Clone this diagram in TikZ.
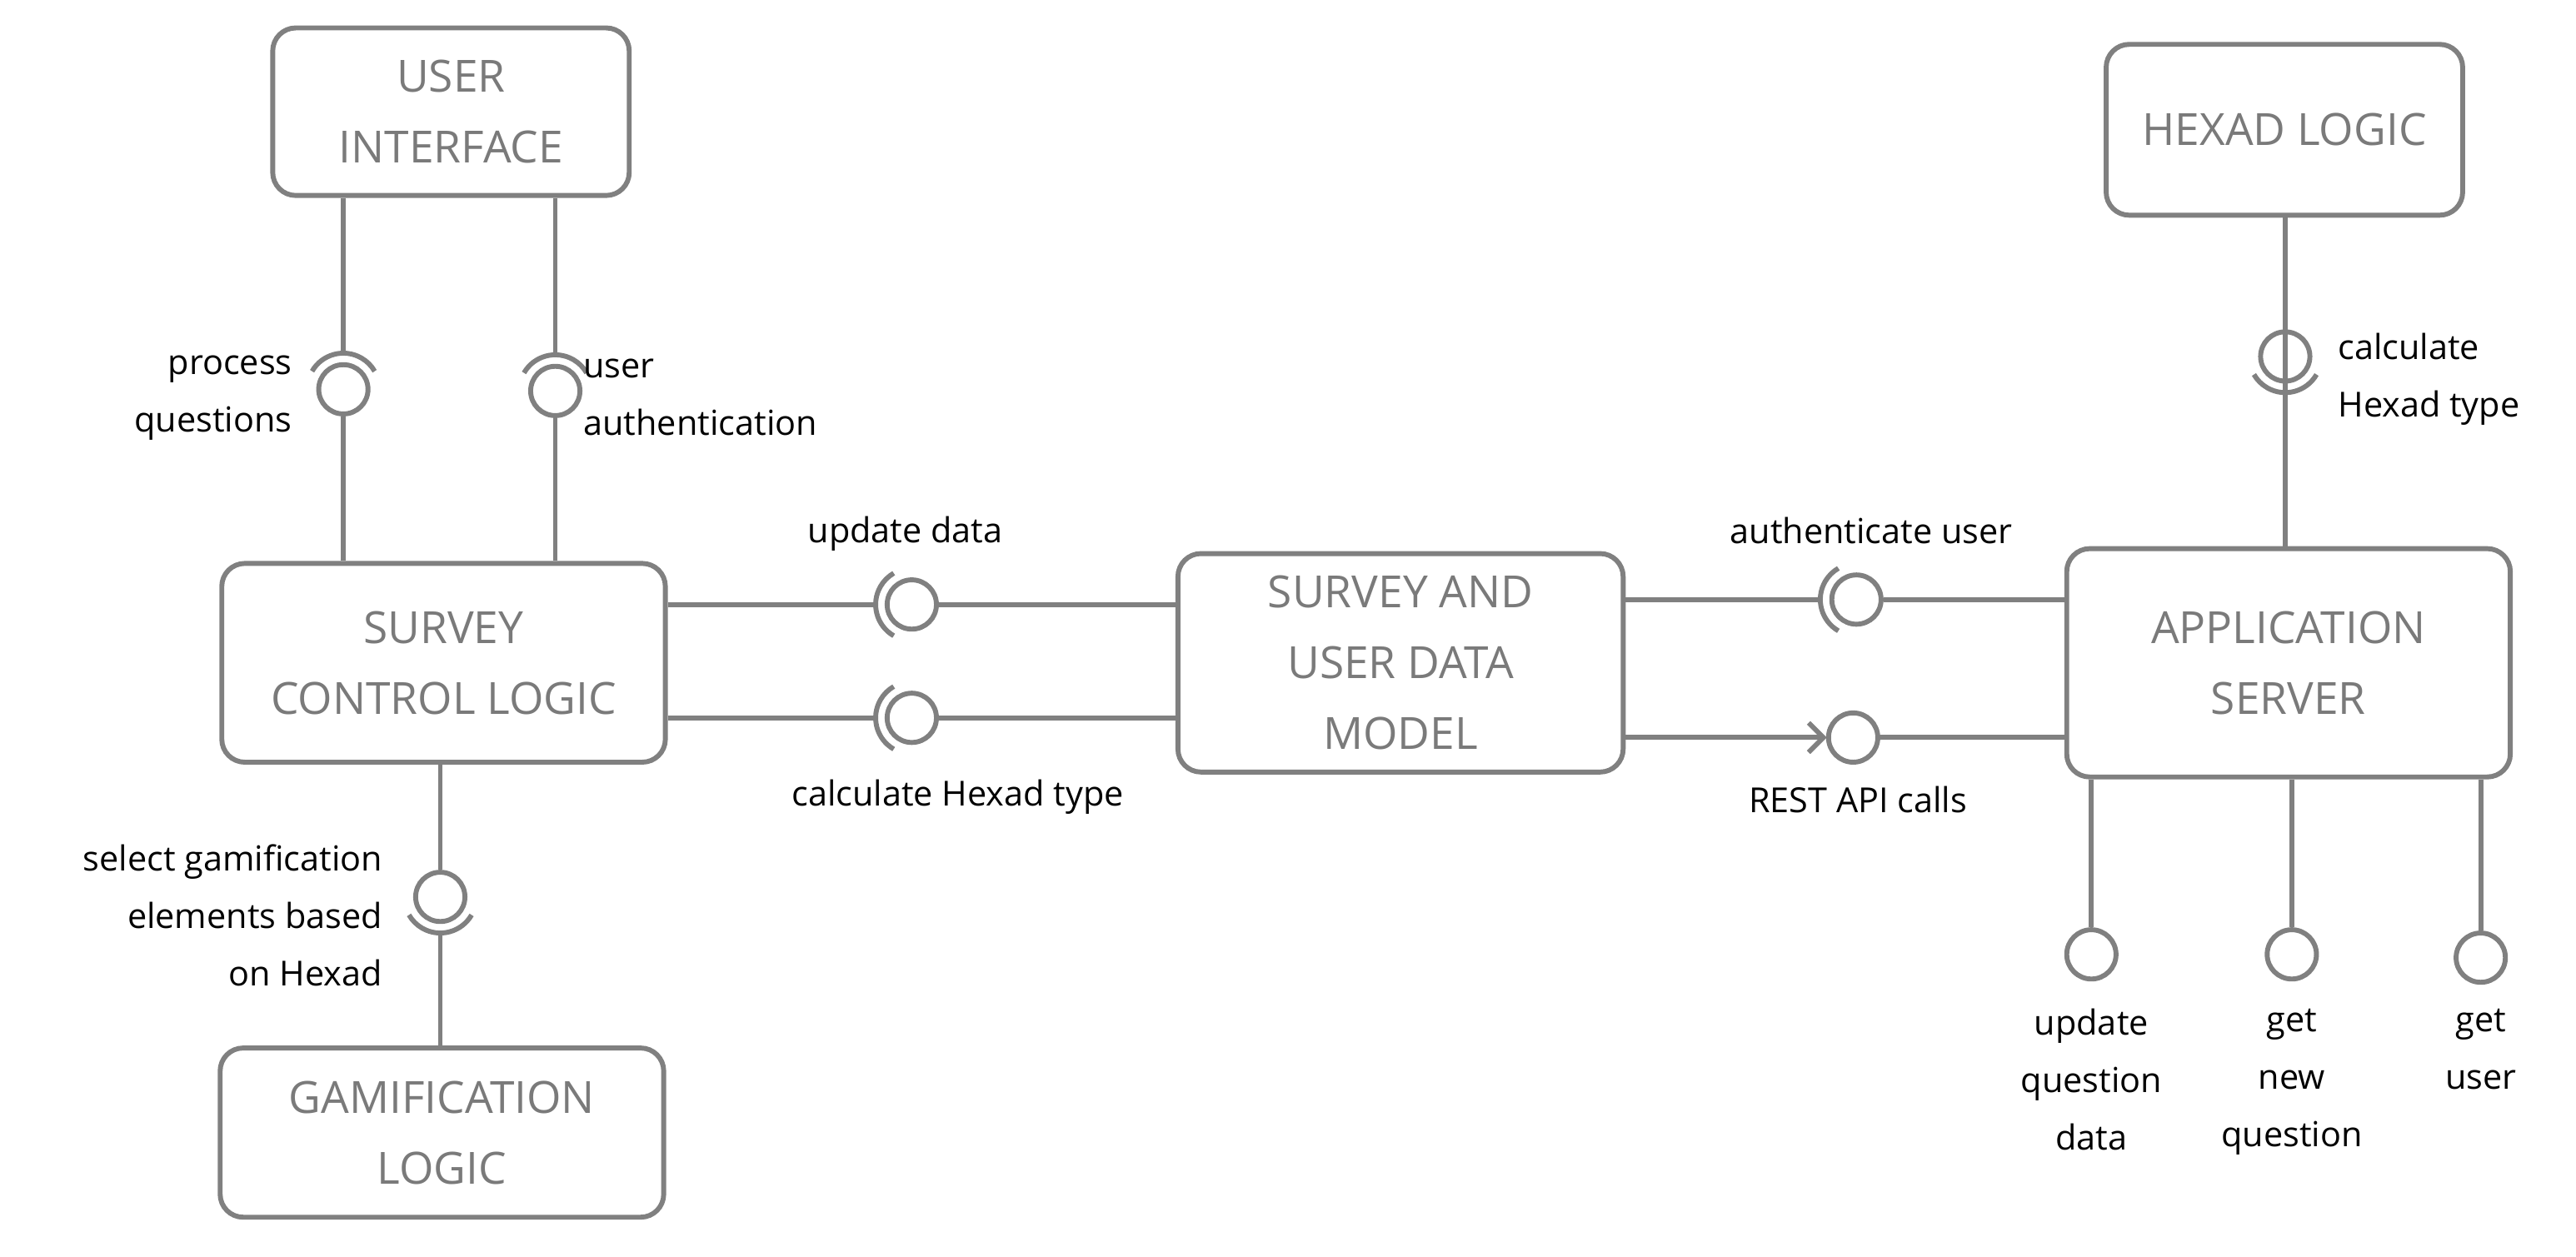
\documentclass[tikz,border=0pt]{standalone}
\usepackage{fontspec}
\setmainfont{Open Sans}
\usetikzlibrary{arrows.meta}
\definecolor{ln}{HTML}{808080}
\definecolor{tx}{HTML}{7A7A7A}
\begin{document}
\begin{tikzpicture}[x=1pt,y=-1pt,
  box/.style={draw=ln,line width=3pt,rounded corners=14pt,text=tx,align=center,
    font=\fontsize{27}{43}\selectfont},
  ball/.style={circle,draw=ln,line width=3pt,minimum size=30pt,inner sep=0pt},
  con/.style={draw=ln,line width=3pt},
  lab/.style={font=\fontsize{21}{35}\selectfont,inner sep=0pt}]
\useasboundingbox (0,0) rectangle (1568,765);
% boxes
\node[box,minimum width=217pt,minimum height=102pt] (ui) at (274.5,68) {USER\\INTERFACE};
\node[box,minimum width=217pt,minimum height=104pt] (hx) at (1390.5,79) {HEXAD LOGIC};
\node[box,minimum width=270pt,minimum height=121pt] (sc) at (270,403.5) {SURVEY\\CONTROL LOGIC};
\node[box,minimum width=271pt,minimum height=133pt] (dm) at (852.5,403.5) {SURVEY AND\\USER DATA\\MODEL};
\node[box,minimum width=270pt,minimum height=139pt] (as) at (1393,403.5) {APPLICATION\\SERVER};
\node[box,minimum width=270pt,minimum height=103pt] (gm) at (269,689.5) {GAMIFICATION\\LOGIC};
% balls
\node[ball] (b1) at (209,237) {};
\node[ball] (b2) at (338,238) {};
\node[ball] (b3) at (268,546) {};
\node[ball] (b4) at (1391,217) {};
\node[ball] (b5) at (555,368) {};
\node[ball] (b6) at (555,437) {};
\node[ball] (b7) at (1130,365) {};
\node[ball] (b8) at (1128,449) {};
\node[ball] (b9) at (1273,581) {};
\node[ball] (b10) at (1395,581) {};
\node[ball] (b11) at (1510,583) {};
% sockets
\coordinate (s1) at (209,215);
\coordinate (s2) at (338,216);
\coordinate (s3) at (268,568);
\coordinate (s4) at (1391,239);
\coordinate (s5) at (533,368);
\coordinate (s6) at (533,437);
\coordinate (s7) at (1108,365);
\draw[con] ([shift={(210:22)}]b1.center) arc (210:330:22);
\draw[con] ([shift={(210:22)}]b2.center) arc (210:330:22);
\draw[con] ([shift={(30:22)}]b3.center) arc (30:150:22);
\draw[con] ([shift={(30:22)}]b4.center) arc (30:150:22);
\draw[con] ([shift={(120:22)}]b5.center) arc (120:240:22);
\draw[con] ([shift={(120:22)}]b6.center) arc (120:240:22);
\draw[con] ([shift={(120:22)}]b7.center) arc (120:240:22);
% connectors
\draw[con] (ui.south -| b1) -- (s1);  \draw[con] (b1) -- (sc.north -| b1);
\draw[con] (ui.south -| b2) -- (s2);  \draw[con] (b2) -- (sc.north -| b2);
\draw[con] (sc.south -| b3) -- (b3);  \draw[con] (s3) -- (gm.north -| b3);
\draw[con] (hx.south -| b4) -- (s4);  \draw[con] (b4) -- (as.north -| b4);
\draw[con] (sc.east |- s5) -- (s5);   \draw[con] (b5) -- (dm.west |- b5);
\draw[con] (sc.east |- s6) -- (s6);   \draw[con] (b6) -- (dm.west |- b6);
\draw[con] (dm.east |- s7) -- (s7);   \draw[con] (b7) -- (as.west |- b7);
\coordinate (a8) at (1112,449);
\draw[con,-{Straight Barb[length=9pt,width=18pt]}] (dm.east |- a8) -- (a8);
\draw[con] (b8) -- (as.west |- b8);
\draw[con] (as.south -| b9) -- (b9);
\draw[con] (as.south -| b10) -- (b10);
\draw[con] (as.south -| b11) -- (b11);
% labels
\node[lab,align=right,anchor=east] (l1) at (178,242) {process\\questions};
\node[lab,align=left,anchor=west] (l2) at (355,242) {user\\authentication};
\node[lab,align=right,anchor=east] (l3) at (233,557) {select gamification\\elements based\\on Hexad};
\node[lab,align=left,anchor=west] (l4) at (1423,231) {calculate\\Hexad type};
\node[lab] (l5) at (551,325) {update data};
\node[lab] (l6) at (583,485) {calculate Hexad type};
\node[lab] (l7) at (1139,323) {authenticate user};
\node[lab] (l8) at (1131,487) {REST API calls};
\node[lab,align=center,anchor=north] (l9) at (1273,614) {update\\question\\data};
\node[lab,align=center,anchor=north] (l10) at (1395,614) {get\\new\\question};
\node[lab,align=center,anchor=north] (l11) at (1510,614) {get\\user};
\end{tikzpicture}
\end{document}
